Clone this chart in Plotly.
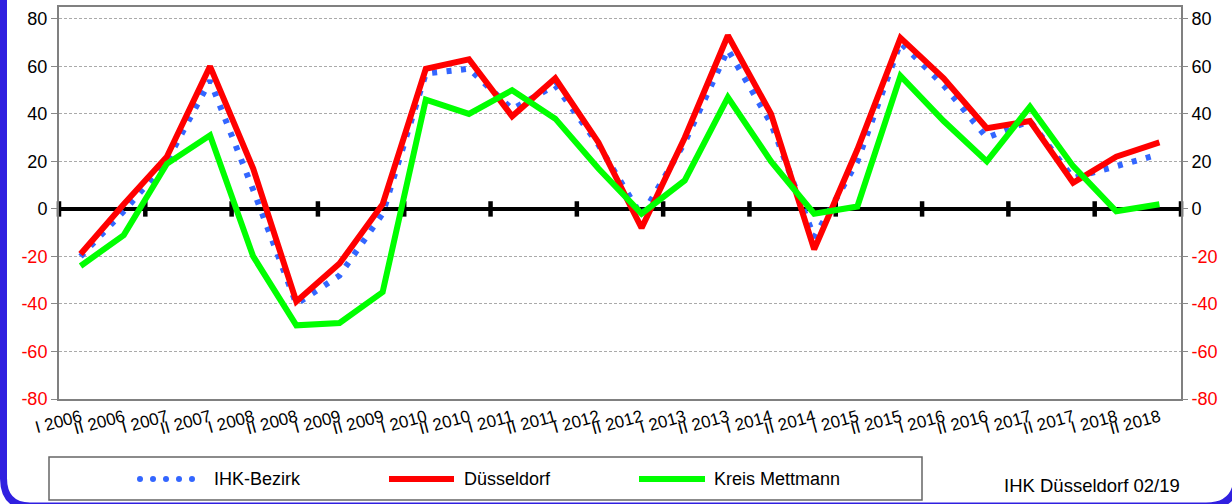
import plotly.graph_objects as go

# ---------------- data ----------------
years = list(range(2006, 2019))
categories = [f"{h} {y}" for y in years for h in ("I", "II")]

ihk_bezirk = [-20, -1, 20, 54, 8, -40, -28, -2, 57, 59, 42, 52, 27, -3, 28, 67,
              36, -12, 20, 70, 52, 30, 37, 13, 18, 23]
duesseldorf = [-19, 2, 22, 60, 17, -39, -23, 2, 59, 63, 39, 55, 28, -8, 30, 73,
               40, -17, 25, 72, 55, 34, 37, 11, 22, 28]
mettmann = [-24, -11, 19, 31, -20, -49, -48, -35, 46, 40, 50, 38, 17, -2, 12, 47,
            20, -2, 1, 56, 37, 20, 43, 18, -1, 2]

y_ticks = [-80, -60, -40, -20, 0, 20, 40, 60, 80]
series_names = ["IHK-Bezirk", "Düsseldorf", "Kreis Mettmann"]
source_text = "IHK Düsseldorf 02/19"

# ---------------- styling / layout helpers ----------------
W, H = 1232, 504
PL, PR, PT, PB = 59, 1181, 7, 399  # plot area in pixels

def px(x):
    return (x - PL) / (PR - PL)

def py(y):
    return (PB - y) / (PB - PT)

BLUE = "#3366FF"
RED = "#FF0000"
GREEN = "#00FF00"
FRAME_BLUE = "#3020E0"
FONT = "Liberation Sans, Arial, sans-serif"

xs = list(range(len(categories)))
tick_marks_x = [i - 0.5 for i in range(0, len(categories) + 1, 2)]

tick_text = [f'<span style="color:red">{v}</span>' if v < 0 else str(v) for v in y_ticks]

fig = go.Figure()

# small black tick marks on the zero line
fig.add_trace(go.Scatter(
    x=tick_marks_x, y=[0] * len(tick_marks_x), mode="markers",
    marker=dict(symbol="line-ns", size=11, line=dict(width=4.5, color="black")),
    cliponaxis=False, hoverinfo="skip", showlegend=False))

fig.add_trace(go.Scatter(x=xs, y=ihk_bezirk, name=series_names[0], mode="lines",
                         line=dict(color=BLUE, width=6, dash="5px,9.5px")))
fig.add_trace(go.Scatter(x=xs, y=duesseldorf, name=series_names[1], mode="lines",
                         line=dict(color=RED, width=6)))
fig.add_trace(go.Scatter(x=xs, y=mettmann, name=series_names[2], mode="lines",
                         line=dict(color=GREEN, width=6)))
# invisible trace to activate right axis
fig.add_trace(go.Scatter(x=[0], y=[0], yaxis="y2", mode="markers",
                         marker=dict(opacity=0), hoverinfo="skip", showlegend=False))

shapes = []
# legend box
shapes.append(dict(type="rect", xref="paper", yref="paper",
                   x0=px(49), x1=px(922), y0=py(457), y1=py(500),
                   line=dict(color="#666666", width=1.5), fillcolor="white"))
# legend samples
for cx in [140, 153, 166, 179, 192]:
    shapes.append(dict(type="circle", xref="paper", yref="paper",
                       x0=px(cx - 3), x1=px(cx + 3), y0=py(479 + 3), y1=py(479 - 3),
                       line=dict(width=0), fillcolor=BLUE))
shapes.append(dict(type="line", xref="paper", yref="paper",
                   x0=px(389), x1=px(454), y0=py(479), y1=py(479),
                   line=dict(color=RED, width=6)))
shapes.append(dict(type="line", xref="paper", yref="paper",
                   x0=px(639), x1=px(705), y0=py(479), y1=py(479),
                   line=dict(color=GREEN, width=6)))

# blue outer frame (left side and rounded bottom)
def P(x, y):
    return f"{px(x):.5f},{py(y):.5f}"

path = (f"M {P(3.5, -20)} L {P(3.5, 478)} Q {P(3.5, 506)} {P(30, 506)} "
        f"L {P(1206, 506)} Q {P(1237, 506)} {P(1237, 476)} L {P(1237, -20)}")
shapes.append(dict(type="path", xref="paper", yref="paper", path=path,
                   line=dict(color=FRAME_BLUE, width=7)))

annotations = []
for txt, x in zip(series_names, [212, 462, 712]):
    annotations.append(dict(text=txt, xref="paper", yref="paper", x=px(x), y=py(479),
                            xanchor="left", yanchor="middle", showarrow=False,
                            font=dict(size=18, color="black", family=FONT)))
annotations.append(dict(text=source_text, xref="paper", yref="paper", x=px(1002), y=py(485),
                        xanchor="left", yanchor="middle", showarrow=False,
                        font=dict(size=18.5, color="black", family=FONT)))

axis_common = dict(
    range=[-80, 85], tickvals=y_ticks, ticktext=tick_text,
    ticks="outside", ticklen=6, tickcolor="#888888", tickwidth=1,
    tickfont=dict(size=18, color="black", family=FONT),
)

fig.update_layout(
    width=W, height=H,
    margin=dict(l=PL, r=W - PR, t=PT, b=H - PB, autoexpand=False),
    paper_bgcolor="white", plot_bgcolor="white",
    showlegend=False,
    font=dict(family=FONT, color="black"),
    xaxis=dict(range=[-0.5, len(categories) - 0.5], tickvals=xs, ticktext=categories,
               tickangle=-15, tickfont=dict(size=17, color="black", family=FONT),
               showgrid=False, zeroline=False, showline=True, mirror=True,
               linecolor="#808080", linewidth=2, ticks="", automargin=False),
    yaxis=dict(**axis_common, showgrid=True, gridcolor="#aaaaaa", gridwidth=1,
               griddash="3px,2px", zeroline=True, zerolinecolor="black", zerolinewidth=4,
               showline=True, mirror=True, linecolor="#808080", linewidth=2),
    yaxis2=dict(**axis_common, overlaying="y", side="right", showgrid=False,
                zeroline=False, showline=False),
    shapes=shapes, annotations=annotations,
)

fig.write_html("out.html", config={"displayModeBar": False},
               post_script="document.body.style.margin='0';document.body.style.overflow='hidden';")
